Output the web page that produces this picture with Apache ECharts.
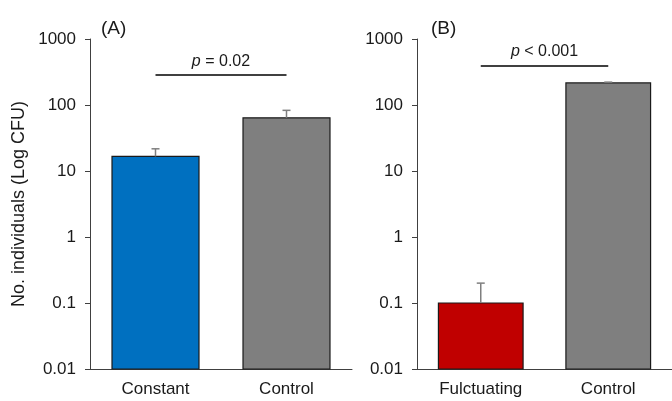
<!DOCTYPE html>
<html>
<head>
<meta charset="utf-8">
<script src="https://cdn.jsdelivr.net/npm/echarts@6/dist/echarts.min.js"></script>
<style>
html,body{margin:0;padding:0;background:#fff;}
#chart{width:672px;height:401px;}
</style>
</head>
<body>
<div id="chart"></div>
<script>
// ---- data ----
const catsA = ['Constant', 'Control'];
const meansA = [16.6, 64];
const errTopA = [21.7, 83];
const catsB = ['Fulctuating', 'Control'];
const meansB = [0.1, 216];
const errTopB = [0.2, 222];
const yTickLabels = ['0.01', '0.1', '1', '10', '100', '1000'];
const sigA = { y: 283, text: '{i|p} = 0.02' };
const sigB = { y: 393, text: '{i|p} < 0.001' };

const FONT = '"Liberation Sans", Arial, sans-serif';
const AXIS_COLOR = '#404040';
const TEXT_COLOR = '#1a1a1a';

function barSeries(idx, cats, means, colors, sig) {
  return {
    type: 'custom',
    xAxisIndex: idx, yAxisIndex: idx,
    encode: { x: 0, y: 1 },
    data: means.map((v, i) => [i, v]),
    renderItem: function (params, api) {
      const c = api.value(0), v = api.value(1);
      const top = api.coord([c, v]);
      const base = api.coord([c, 0.01]);
      const bw = api.size([1, 1])[0] * 0.664;
      return {
        type: 'rect',
        shape: { x: top[0] - bw / 2, y: top[1], width: bw, height: base[1] - top[1] },
        style: { fill: colors[params.dataIndex], stroke: '#1a1a1a', lineWidth: 1.2 }
      };
    },
    markLine: {
      silent: true,
      symbol: 'none',
      lineStyle: { color: '#000', width: 1.5, type: 'solid' },
      label: {
        show: true,
        position: 'insideMiddleTop',
        distance: 6,
        formatter: sig.text,
        color: TEXT_COLOR,
        fontSize: 16,
        fontFamily: FONT,
        rich: { i: { fontStyle: 'italic', fontSize: 16, fontFamily: FONT, color: TEXT_COLOR } }
      },
      data: [[{ coord: [cats[0], sig.y] }, { coord: [cats[1], sig.y] }]]
    },
    z: 2
  };
}

function errSeries(idx, means, tops) {
  return {
    type: 'custom',
    xAxisIndex: idx, yAxisIndex: idx,
    encode: { x: 0, y: [1, 2] },
    data: means.map((v, i) => [i, v, tops[i]]),
    renderItem: function (params, api) {
      const c = api.value(0);
      const p0 = api.coord([c, api.value(1)]);
      const p1 = api.coord([c, api.value(2)]);
      const st = { stroke: '#7f7f7f', lineWidth: 1.5 };
      return {
        type: 'group',
        children: [
          { type: 'line', shape: { x1: p0[0], y1: p0[1], x2: p1[0], y2: p1[1] }, style: st },
          { type: 'line', shape: { x1: p1[0] - 4, y1: p1[1], x2: p1[0] + 4, y2: p1[1] }, style: st }
        ]
      };
    },
    z: 3
  };
}

function xAxis(idx, cats) {
  return {
    type: 'category', gridIndex: idx, data: cats, boundaryGap: true,
    axisLine: { lineStyle: { color: AXIS_COLOR, width: 1 } },
    axisTick: { show: false },
    axisLabel: { color: TEXT_COLOR, fontSize: 17, fontFamily: FONT, margin: 12 }
  };
}

function yAxis(idx, withName) {
  const ax = {
    type: 'log', gridIndex: idx, logBase: 10, min: 0.01, max: 1000,
    axisLine: { show: true, lineStyle: { color: AXIS_COLOR, width: 1 } },
    axisTick: { show: true, length: 5, lineStyle: { color: AXIS_COLOR } },
    splitLine: { show: false },
    minorTick: { show: false },
    axisLabel: {
      color: TEXT_COLOR, fontSize: 17, fontFamily: FONT, margin: 14,
      formatter: function (v) { return yTickLabels[Math.round(Math.log10(v)) + 2]; }
    }
  };
  if (withName) {
    ax.name = 'No. individuals (Log CFU)';
    ax.nameLocation = 'middle';
    ax.nameRotate = 90;
    ax.nameGap = 62;
    ax.nameTextStyle = { color: TEXT_COLOR, fontSize: 18, fontFamily: FONT };
  }
  return ax;
}

const chart = echarts.init(document.getElementById('chart'), null, { renderer: 'canvas' });
chart.setOption({
  backgroundColor: '#fff',
  animation: false,
  title: [
    { text: '(A)', left: 96, top: 14, textStyle: { color: TEXT_COLOR, fontSize: 19, fontWeight: 'normal', fontFamily: FONT } },
    { text: '(B)', left: 426, top: 14, textStyle: { color: TEXT_COLOR, fontSize: 19, fontWeight: 'normal', fontFamily: FONT } }
  ],
  grid: [
    { left: 90, top: 39, width: 262, height: 330 },
    { left: 417, top: 39, width: 262, height: 330 }
  ],
  xAxis: [xAxis(0, catsA), xAxis(1, catsB)],
  yAxis: [yAxis(0, true), yAxis(1, false)],
  series: [
    barSeries(0, catsA, meansA, ['#0070C0', '#7F7F7F'], sigA),
    errSeries(0, meansA, errTopA),
    barSeries(1, catsB, meansB, ['#C00000', '#7F7F7F'], sigB),
    errSeries(1, meansB, errTopB)
  ]
});
</script>
</body>
</html>
